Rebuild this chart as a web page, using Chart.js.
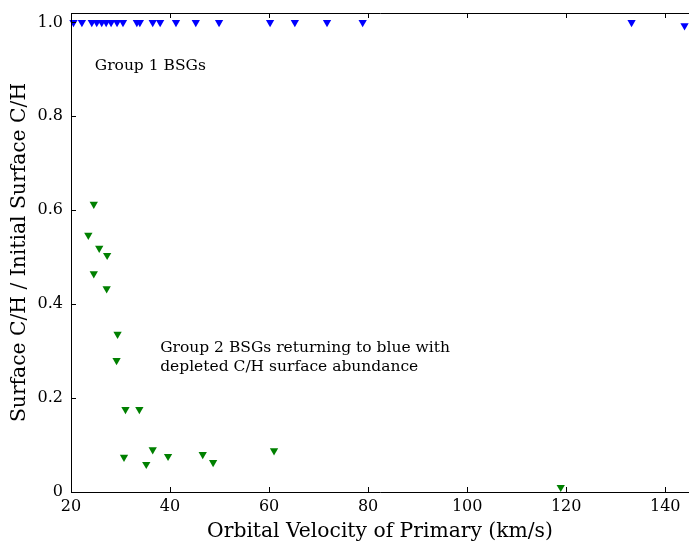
<!DOCTYPE html>
<html>
<head>
<meta charset="utf-8">
<script src="https://cdn.jsdelivr.net/npm/chart.js@4.4.1/dist/chart.umd.min.js"></script>
<style>
html,body{margin:0;padding:0;background:#fff;}
#c{display:block;}
</style>
</head>
<body>
<canvas id="c" width="689" height="542"></canvas>
<script>
// ---- data ----
const group1X = [20.5, 22.2, 24.2, 25.2, 26.2, 27.1, 28.1, 29.3, 30.5, 33.3, 33.9, 36.5, 38.0, 41.2, 45.2, 49.9, 60.2, 65.2, 71.7, 78.9, 133.2, 143.9];
const group1Y = [1.0, 1.0, 1.0, 1.0, 1.0, 1.0, 1.0, 1.0, 1.0, 1.0, 1.0, 1.0, 1.0, 1.0, 1.0, 1.0, 1.0, 1.0, 1.0, 1.0, 1.0, 0.993];
const group2X = [24.6, 23.5, 25.7, 27.3, 24.6, 27.2, 29.4, 29.2, 31.0, 33.8, 30.7, 36.5, 35.2, 39.6, 46.6, 48.7, 61.0, 118.9];
const group2Y = [0.613, 0.547, 0.519, 0.504, 0.465, 0.433, 0.336, 0.280, 0.176, 0.176, 0.074, 0.090, 0.059, 0.076, 0.080, 0.063, 0.088, 0.010];
const xTicks = [20, 40, 60, 80, 100, 120, 140];
const yTicks = [0, 0.2, 0.4, 0.6, 0.8, 1.0];
const xTitle = 'Orbital Velocity of Primary (km/s)';
const yTitle = 'Surface C/H / Initial Surface C/H';
const notes = [
  {text: 'Group 1 BSGs', x: 24.8, y: 0.898},
  {text: 'Group 2 BSGs returning to blue with', x: 38.0, y: 0.298},
  {text: 'depleted C/H surface abundance', x: 38.0, y: 0.257}
];

const FONT = '"DejaVu Serif", serif';

const toPts = (xs, ys) => xs.map((x, i) => ({x: x, y: ys[i]}));

const noPad = s => { s.paddingTop = 0; s.paddingBottom = 0; s.paddingLeft = 0; s.paddingRight = 0; };

const spines = {
  id: 'spines',
  afterDatasetsDraw(chart) {
    const ctx = chart.ctx;
    const a = chart.chartArea;
    const xs = chart.scales.x, ys = chart.scales.y;
    ctx.save();
    ctx.strokeStyle = '#000';
    ctx.lineWidth = 1;
    ctx.beginPath();
    ctx.moveTo(a.left + 0.5, a.top + 0.5);
    ctx.lineTo(a.right + 2, a.top + 0.5);
    ctx.moveTo(a.left + 0.5, a.top);
    ctx.lineTo(a.left + 0.5, a.bottom + 0.5);
    ctx.lineTo(a.right + 2, a.bottom + 0.5);
    const L = 5;
    xTicks.forEach(v => {
      const px = Math.round(xs.getPixelForValue(v)) + 0.5;
      ctx.moveTo(px, a.bottom);
      ctx.lineTo(px, a.bottom - L);
      ctx.moveTo(px, a.top);
      ctx.lineTo(px, a.top + L);
    });
    yTicks.forEach(v => {
      const py = Math.round(ys.getPixelForValue(v)) + 0.5;
      ctx.moveTo(a.left, py);
      ctx.lineTo(a.left + L, py);
    });
    ctx.stroke();
    ctx.fillStyle = '#000';
    ctx.font = '15.5px ' + FONT;
    ctx.textBaseline = 'alphabetic';
    ctx.textAlign = 'left';
    notes.forEach(n => {
      ctx.fillText(n.text, xs.getPixelForValue(n.x), ys.getPixelForValue(n.y));
    });
    ctx.restore();
  }
};

new Chart(document.getElementById('c'), {
  type: 'scatter',
  data: {
    datasets: [
      {
        label: 'Group 1',
        data: toPts(group1X, group1Y),
        pointStyle: 'triangle',
        rotation: 180,
        pointRadius: 4.8,
        pointHoverRadius: 4.8,
        backgroundColor: '#0000ff',
        borderColor: '#0000ff',
        borderWidth: 0,
        clip: false
      },
      {
        label: 'Group 2',
        data: toPts(group2X, group2Y),
        pointStyle: 'triangle',
        rotation: 180,
        pointRadius: 4.8,
        pointHoverRadius: 4.8,
        backgroundColor: '#008000',
        borderColor: '#008000',
        borderWidth: 0,
        clip: false
      }
    ]
  },
  options: {
    responsive: false,
    animation: false,
    devicePixelRatio: 1,
    layout: {autoPadding: false, padding: {top: 13, right: 0, left: 0, bottom: 0}},
    plugins: {legend: {display: false}, tooltip: {enabled: false}},
    scales: {
      x: {
        type: 'linear',
        min: 20,
        max: 144.8,
        afterBuildTicks: s => { s.ticks = xTicks.map(v => ({value: v})); },
        afterFit: s => { s.height = 50; noPad(s); },
        grid: {display: false, drawTicks: false},
        border: {display: false},
        ticks: {color: '#000', font: {family: FONT, size: 16}, padding: 5, maxRotation: 0, autoSkip: false},
        title: {display: true, text: xTitle, color: '#000', font: {family: FONT, size: 20.3}, padding: {top: 0, bottom: -2}}
      },
      y: {
        type: 'linear',
        min: 0,
        max: 1.02,
        afterBuildTicks: s => { s.ticks = yTicks.map(v => ({value: v})); },
        afterFit: s => { s.width = 71; noPad(s); },
        grid: {display: false, drawTicks: false},
        border: {display: false},
        ticks: {color: '#000', font: {family: FONT, size: 16}, padding: 8, autoSkip: false,
          callback: v => (v === 0 ? '0' : Number(v).toFixed(1))},
        title: {display: true, text: yTitle, color: '#000', font: {family: FONT, size: 20.3}, padding: {top: 8, bottom: 0}}
      }
    }
  },
  plugins: [spines]
});
</script>
</body>
</html>
